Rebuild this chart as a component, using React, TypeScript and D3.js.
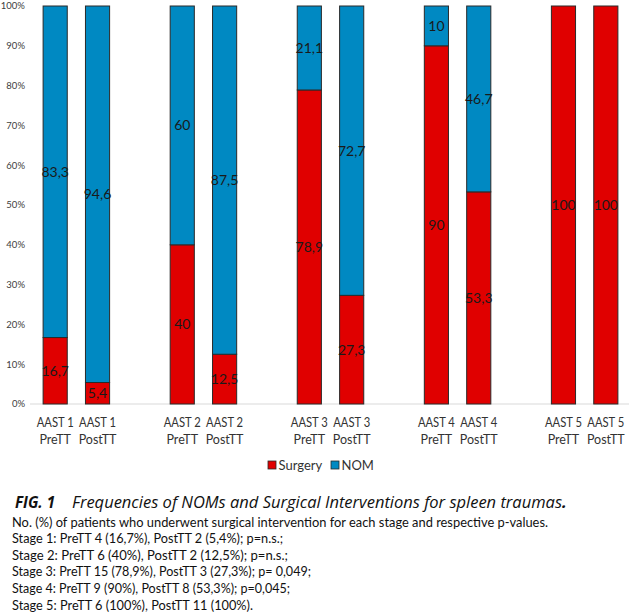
import * as d3 from "d3";
import { useEffect, useRef } from "react";

const stages = ["AAST 1", "AAST 2", "AAST 3", "AAST 4", "AAST 5"];
const periods = ["PreTT", "PostTT"];
// per stage: PreTT, PostTT (percent)
const surgery = [16.7, 5.4, 40, 12.5, 78.9, 27.3, 90, 53.3, 100, 100];
const nom = [83.3, 94.6, 60, 87.5, 21.1, 72.7, 10, 46.7, 0, 0];
const yTicks = [0, 10, 20, 30, 40, 50, 60, 70, 80, 90, 100];
const seriesNames = ["Surgery", "NOM"];

const figLabel = "FIG. 1";
const figTitle = "Frequencies of NOMs and Surgical Interventions for spleen traumas";
const captionLines = [
  "No. (%) of patients who underwent surgical intervention for each stage and respective p-values.",
  "Stage 1: PreTT 4 (16,7%), PostTT 2 (5,4%); p=n.s.;",
  "Stage 2: PreTT 6 (40%), PostTT 2 (12,5%); p=n.s.;",
  "Stage 3: PreTT 15 (78,9%), PostTT 3 (27,3%); p= 0,049;",
  "Stage 4: PreTT 9 (90%), PostTT 8 (53,3%); p=0,045;",
  "Stage 5: PreTT 6 (100%), PostTT 11 (100%).",
];
const captionWidths = [536, 271, 276, 299, 278, 241];

const RED = "#e00000";
const BLUE = "#0089c2";
const FONT = "Lato, 'Liberation Sans', sans-serif";

const fmt = (v: number) => String(v).replace(".", ",");

export default function App() {
  const ref = useRef<SVGSVGElement | null>(null);

  useEffect(() => {
    if (!ref.current) return;
    const svg = d3.select(ref.current);
    svg.selectAll("*").remove();

    const width = 629;
    const height = 612;
    svg.attr("width", width).attr("height", height);

    // slots: two bars per stage, one empty slot between stages
    const slots: string[] = [];
    const bars: { key: string; stage: string; period: string; s: number; n: number }[] = [];
    stages.forEach((st, g) => {
      periods.forEach((p, j) => {
        const key = `${st}|${p}`;
        slots.push(key);
        bars.push({ key, stage: st, period: p, s: surgery[g * 2 + j], n: nom[g * 2 + j] });
      });
      if (g < stages.length - 1) slots.push(`gap${g}`);
    });

    const x = d3
      .scaleBand()
      .domain(slots)
      .range([34, 627])
      .paddingInner(0.43)
      .paddingOuter(0.215);

    const y = d3.scaleLinear().domain([0, 100]).range([404, 6]);

    // Y tick labels
    svg
      .append("g")
      .selectAll("text")
      .data(yTicks)
      .enter()
      .append("text")
      .attr("x", 25)
      .attr("y", (d) => y(d))
      .attr("dy", "0.35em")
      .attr("text-anchor", "end")
      .style("font-family", FONT)
      .style("font-size", "9.5px")
      .style("fill", "#404040")
      .text((d) => `${d}%`);

    // baseline
    svg
      .append("line")
      .attr("x1", 30)
      .attr("x2", 629)
      .attr("y1", y(0))
      .attr("y2", y(0))
      .attr("stroke", "#d9d9d9")
      .attr("stroke-width", 1);

    const g = svg.append("g");

    // Surgery segments
    g.selectAll("rect.surg")
      .data(bars.filter((b) => b.s > 0))
      .enter()
      .append("rect")
      .attr("class", "surg")
      .attr("x", (b) => x(b.key)!)
      .attr("width", x.bandwidth())
      .attr("y", (b) => y(b.s))
      .attr("height", (b) => y(0) - y(b.s))
      .attr("fill", RED)
      .attr("stroke", "#2a2a2a")
      .attr("stroke-width", 1);

    // NOM segments
    g.selectAll("rect.nom")
      .data(bars.filter((b) => b.n > 0))
      .enter()
      .append("rect")
      .attr("class", "nom")
      .attr("x", (b) => x(b.key)!)
      .attr("width", x.bandwidth())
      .attr("y", (b) => y(b.s + b.n))
      .attr("height", (b) => y(b.s) - y(b.s + b.n))
      .attr("fill", BLUE)
      .attr("stroke", "#2a2a2a")
      .attr("stroke-width", 1);

    // value labels
    const labels = [
      ...bars.filter((b) => b.s > 0).map((b) => ({ key: b.key, v: b.s, mid: b.s / 2 })),
      ...bars.filter((b) => b.n > 0).map((b) => ({ key: b.key, v: b.n, mid: b.s + b.n / 2 })),
    ];
    g.selectAll("text.val")
      .data(labels)
      .enter()
      .append("text")
      .attr("class", "val")
      .attr("x", (d) => x(d.key)! + x.bandwidth() / 2)
      .attr("y", (d) => y(d.mid))
      .attr("dy", "0.35em")
      .attr("text-anchor", "middle")
      .style("font-family", FONT)
      .style("font-size", "14px")
      .style("fill", "#1a1a1a")
      .text((d) => fmt(d.v));

    // X labels
    const xl = svg
      .append("g")
      .selectAll("text")
      .data(bars)
      .enter()
      .append("text")
      .attr("text-anchor", "middle")
      .style("font-family", FONT)
      .style("font-size", "12.5px")
      .style("fill", "#333");
    xl.append("tspan")
      .attr("x", (b) => x(b.key)! + x.bandwidth() / 2)
      .attr("y", 427)
      .attr("textLength", 37)
      .attr("lengthAdjust", "spacingAndGlyphs")
      .text((b) => b.stage);
    xl.append("tspan")
      .attr("x", (b) => x(b.key)! + x.bandwidth() / 2)
      .attr("y", 444)
      .text((b) => b.period);

    // Legend
    const legend = svg.append("g");
    const legendX = [268, 331];
    seriesNames.forEach((name, i) => {
      legend
        .append("rect")
        .attr("x", legendX[i])
        .attr("y", 461)
        .attr("width", 8)
        .attr("height", 8)
        .attr("fill", i === 0 ? RED : BLUE)
        .attr("stroke", "#2a2a2a")
        .attr("stroke-width", 0.8);
      legend
        .append("text")
        .attr("x", legendX[i] + 10.5)
        .attr("y", 469.5)
        .style("font-family", FONT)
        .style("font-size", "13px")
        .style("fill", "#333")
        .text(name);
    });

    // Caption
    const title = svg
      .append("text")
      .attr("y", 508)
      .style("font-family", "'Open Sans', sans-serif")
      .style("font-size", "16.5px")
      .style("font-style", "italic")
      .style("fill", "#111");
    title
      .append("tspan")
      .attr("x", 15)
      .style("font-weight", "bold")
      .attr("textLength", 40)
      .attr("lengthAdjust", "spacingAndGlyphs")
      .text(figLabel);
    title
      .append("tspan")
      .attr("x", 72)
      .attr("textLength", 490)
      .attr("lengthAdjust", "spacingAndGlyphs")
      .text(figTitle);
    title.append("tspan").style("font-weight", "bold").text(".");

    svg
      .append("g")
      .selectAll("text")
      .data(captionLines)
      .enter()
      .append("text")
      .attr("x", 12)
      .attr("y", (_, i) => 526.5 + i * 16.6)
      .attr("textLength", (_, i) => captionWidths[i])
      .attr("lengthAdjust", "spacingAndGlyphs")
      .style("font-family", FONT)
      .style("font-size", "13.5px")
      .style("fill", "#111")
      .text((d) => d);
  }, []);

  return <svg ref={ref} style={{ position: "absolute", left: 0, top: 0 }}></svg>;
}
